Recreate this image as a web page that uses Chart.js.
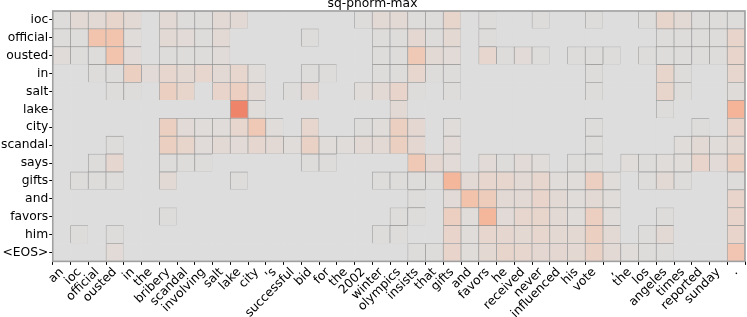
<!DOCTYPE html>
<html>
<head>
<meta charset="utf-8">
<script src="https://cdn.jsdelivr.net/npm/chart.js@4"></script>
<style>
  html, body { margin: 0; padding: 0; background: #fff; }
  #wrap { width: 747px; height: 317px; }
</style>
</head>
<body>
<div id="wrap"><canvas id="myChart"></canvas></div>
<script>
// 행(위→아래), 열 레이블
const rowLabels = ['ioc', 'official', 'ousted', 'in', 'salt', 'lake', 'city', 'scandal', 'says', 'gifts', 'and', 'favors', 'him', '<EOS>'];
const colLabels = ['an', 'ioc', 'official', 'ousted', 'in', 'the', 'bribery', 'scandal', 'involving', 'salt', 'lake', 'city', "'s", 'successful', 'bid', 'for', 'the', '2002', 'winter', 'olympics', 'insists', 'that', 'gifts', 'and', 'favors', 'he', 'received', 'never', 'influenced', 'his', 'vote', ',', 'the', 'los', 'angeles', 'times', 'reported', 'sunday', '.'];

// 셀 값 (0 = 테두리 없음)
const heat = [
  [.03,.15,.15,.28,.15,0,.15,.03,.03,.15, .15,0,0,0,0,0,0,.03,.15,.15, .03,.03,.28,0,.03,0,0,.03,0,0, .03,0,0,.03,.28,.15,.03,.03,.03],
  [.03,.03,.58,.58,.05,0,.15,.1,.03,.15, 0,0,0,0,.03,0,0,0,.03,.03, .2,.03,.18,0,.03,0,0,0,0,0, 0,0,0,0,.03,.03,.03,.03,.3],
  [.08,.03,.03,.58,.12,0,.03,.03,.03,.08, 0,0,0,0,0,0,0,0,.03,.03, .5,.15,.12,0,.25,.03,.1,.03,0,.03, .03,.03,0,.03,.03,.03,.03,.03,.3],
  [0,0,.03,.03,.38,.12,.25,.18,.25,.15, .25,.05,0,0,.03,.03,0,0,.03,.03, .25,.03,.03,0,0,0,0,0,0,0, .03,0,0,0,.28,.03,0,0,.25],
  [0,0,0,.03,.03,0,.38,.28,0,.3, .4,.15,0,.03,.2,0,0,.05,.15,.3, .03,0,.03,0,0,0,0,0,0,0, .03,0,0,0,.28,.03,0,0,.06],
  [0,0,0,0,0,0,0,0,0,0, 1,.05,0,0,0,0,0,0,0,.15, 0,0,0,0,0,0,0,0,0,0, 0,0,0,0,.03,0,0,0,.75],
  [0,0,0,0,0,0,.38,.12,.05,.05, .25,.5,.05,0,.25,0,0,.03,.05,.38, .2,0,.05,0,0,0,0,0,0,0, .03,0,0,0,0,0,.03,0,.3],
  [0,0,0,.03,0,0,.38,.28,.08,.15, .12,.22,.15,.05,.35,.05,.05,.15,.15,.38, .2,0,.12,0,0,0,0,0,0,0, .03,0,0,0,0,.05,.15,.05,.18],
  [0,0,.03,.22,0,0,.03,.03,.03,0, 0,0,0,0,.03,.03,0,0,0,0, .5,.2,.1,0,.12,.03,.12,.05,0,.03, .03,0,.05,.03,.05,.05,.3,.12,.38],
  [0,.03,.03,.03,0,0,.15,0,0,0, .03,0,0,0,0,0,0,0,.03,.03, .03,.03,.72,.15,.25,.25,.15,.25,.05,.05, .4,.05,0,.03,.15,.03,0,0,.03],
  [0,0,0,0,0,0,0,0,0,0, 0,0,0,0,0,0,0,0,0,0, .03,0,.12,.6,.45,.15,.15,.3,.15,.05, .15,.05,0,0,0,0,0,0,.3],
  [0,0,0,0,0,0,.03,0,0,0, 0,0,0,0,0,0,0,0,0,.03, .03,0,.4,.05,.72,.12,.25,.28,.15,.05, .4,.05,0,0,.03,0,0,0,.3],
  [0,.03,0,.03,0,0,0,0,0,0, 0,0,0,0,0,0,0,0,.03,.03, 0,0,.3,.05,.25,.22,.18,.25,.18,.18, .38,.15,0,.03,.15,0,0,0,.3],
  [0,0,0,.12,0,0,0,0,0,0, 0,0,0,0,0,0,0,0,0,0, .03,.03,.3,.05,.18,.28,.25,.2,.2,.18, .35,.15,.05,.03,.03,0,0,0,.55]
];

// 회색 → 주황 색상표
const stops = [
  [0, [221, 221, 221]],
  [0.25, [230, 214, 206]],
  [0.45, [238, 204, 188]],
  [0.6, [243, 194, 171]],
  [0.8, [245, 175, 146]],
  [1, [238, 133, 106]]
];
function heatColor(v) {
  for (let i = 1; i < stops.length; i++) {
    if (v <= stops[i][0]) {
      const [a, ca] = stops[i - 1];
      const [b, cb] = stops[i];
      const t = (v - a) / (b - a);
      const c = ca.map((x, k) => Math.round(x + (cb[k] - x) * t));
      return `rgb(${c[0]},${c[1]},${c[2]})`;
    }
  }
  return 'rgb(238,133,106)';
}

// 아래쪽 행부터 쌓기
const bottomUp = heat.map((row, i) => ({ label: rowLabels[i], row })).reverse();
const datasets = bottomUp.map(d => ({
  label: d.label,
  data: d.row.map(() => 1),
  backgroundColor: d.row.map(v => heatColor(v)),
  borderColor: d.row.map(v => v > 0 ? 'rgba(120,120,120,0.6)' : 'rgba(0,0,0,0)'),
  borderWidth: d.row.map(v => v > 0 ? 0.8 : 0),
  borderSkipped: false,
  barPercentage: 1,
  categoryPercentage: 1
}));

// 바깥 테두리
const frame = {
  id: 'frame',
  afterDatasetsDraw(chart) {
    const { ctx, chartArea: a } = chart;
    ctx.save();
    ctx.strokeStyle = '#a0a0a0';
    ctx.lineWidth = 1.6;
    ctx.strokeRect(a.left, a.top, a.right - a.left, a.bottom - a.top);
    ctx.restore();
  }
};

const font = { family: 'DejaVu Sans', size: 12.3 };
const ctx = document.getElementById('myChart').getContext('2d');
const myChart = new Chart(ctx, {
  type: 'bar',
  data: { labels: colLabels, datasets },
  plugins: [frame],
  options: {
    responsive: true,
    maintainAspectRatio: false,
    animation: false,
    layout: { padding: { left: 0, right: 2, top: 0, bottom: -4 } },
    plugins: {
      legend: { display: false },
      tooltip: { enabled: false },
      title: {
        display: true,
        text: 'sq-pnorm-max',
        color: '#000',
        font: { family: 'DejaVu Sans', size: 12.3, weight: 'normal', lineHeight: 0.55 },
        padding: { top: 0, bottom: 4.2 }
      }
    },
    scales: {
      x: {
        stacked: true,
        border: { display: false },
        grid: { drawOnChartArea: false, drawTicks: true, tickLength: 3.5, tickColor: '#000' },
        ticks: {
          color: '#000', font: { ...font, lineHeight: 1 },
          autoSkip: false, maxRotation: 45, minRotation: 45, padding: 1
        }
      },
      y: {
        stacked: true,
        min: 0,
        max: rowLabels.length,
        border: { display: false },
        grid: { drawOnChartArea: false, drawTicks: true, tickLength: 3.5, tickColor: '#000' },
        afterBuildTicks: axis => {
          axis.ticks = bottomUp.map((d, i) => ({ value: i + 0.5 }));
        },
        ticks: {
          color: '#000', font, padding: 1,
          callback: (v, i) => bottomUp[i] ? bottomUp[i].label : ''
        }
      }
    }
  }
});
</script>
</body>
</html>
